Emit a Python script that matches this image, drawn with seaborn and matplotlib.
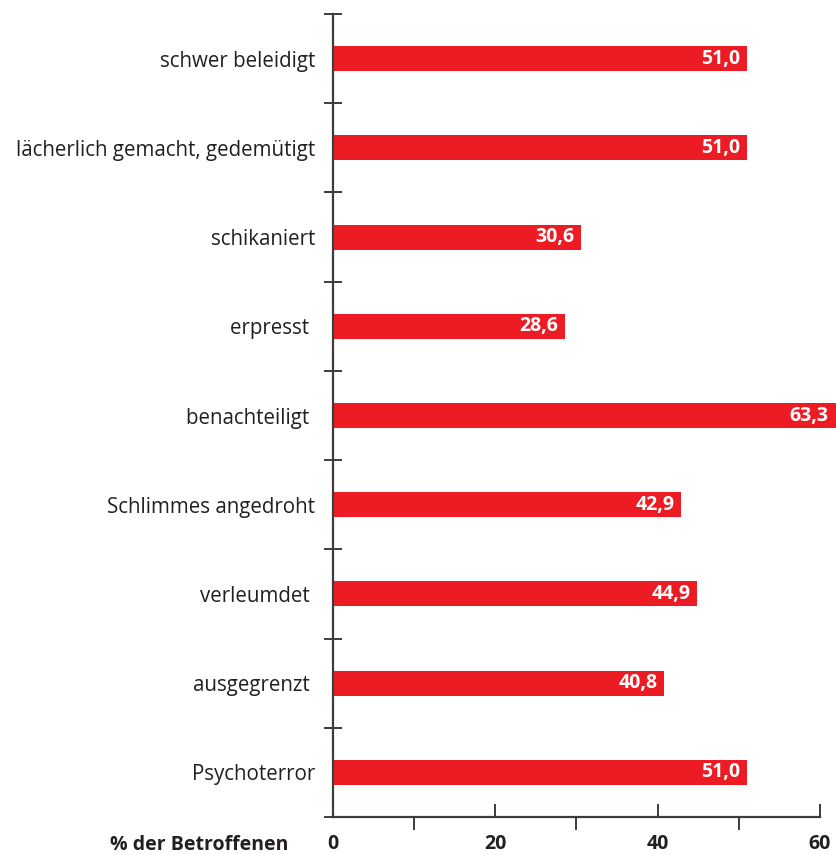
# Mobbing: Formen der Betroffenheit, horizontal bars

import numpy as np
import pandas as pd
import matplotlib
matplotlib.use('Agg')
import matplotlib.pyplot as plt
import matplotlib.transforms as mtransforms
from matplotlib.ticker import FixedLocator
import seaborn as sb

# Data
categories = ["schwer beleidigt", "lächerlich gemacht, gedemütigt", "schikaniert",
              "erpresst ", "benachteiligt ", "Schlimmes angedroht", "verleumdet ",
              "ausgegrenzt ", "Psychoterror"]
values = [51.0, 51.0, 30.6, 28.6, 63.3, 42.9, 44.9, 40.8, 51.0]
value_labels = ["51,0", "51,0", "30,6", "28,6", "63,3", "42,9", "44,9", "40,8", "51,0"]
x_ticks = [0, 20, 40, 60]
x_minor = [10, 30, 50]
x_label = "% der Betroffenen"

red = "#ED1C24"
ink = "#231F20"
axis_col = "#3C3C3C"

df = pd.DataFrame({"cat": categories, "val": values})

sb.set_style("white")
plt.rcParams['font.family'] = ['Open Sans', 'DejaVu Sans']

fig = plt.figure(figsize=(8.37, 8.55), dpi=100)
ax = fig.add_axes([333 / 837, 1 - 817 / 855, (820 - 333) / 837, (817 - 14) / 855])

sb.barplot(data=df, y="cat", x="val", orient="h", color=red, width=0.28,
           saturation=1, ax=ax)
for p in ax.patches:
    p.set_clip_on(False)
    p.set_edgecolor("none")

ax.set_xlim(0, 60)
ax.set_ylim(len(categories) - 0.5, -0.5)

# spines
sb.despine(ax=ax, top=True, right=True)
for s in ["left", "bottom"]:
    ax.spines[s].set_color(axis_col)
    ax.spines[s].set_linewidth(1.6)

# y axis: labels at bar centres, ticks at category borders
ax.set_yticks(range(len(categories)))
ax.set_yticklabels(categories, fontsize=14.8, color=ink)
ax.tick_params(axis="y", which="major", left=True, length=0, pad=13)
ax.yaxis.set_minor_locator(FixedLocator(np.arange(-0.5, len(categories), 1.0)))
ax.tick_params(axis="y", which="minor", left=True, direction="inout", length=13.5,
               width=1.4, color=axis_col)

# x axis
ax.set_xticks(x_ticks)
ax.set_xticklabels([str(t) for t in x_ticks], fontsize=14, fontweight="bold", color=ink)
ax.xaxis.set_minor_locator(FixedLocator(x_minor))
ax.tick_params(axis="x", which="major", bottom=True, direction="in", length=9.5,
               width=1.4, color=axis_col, pad=12)
ax.tick_params(axis="x", which="minor", bottom=True, direction="out", length=9.5,
               width=1.4, color=axis_col)
ax.set_xlabel("")
ax.set_ylabel("")
ax.text(-0.092, -0.035, x_label, transform=ax.transAxes, ha="right", va="center",
        fontsize=14, fontweight="bold", color=ink)

# value labels inside bar ends (kept inside the figure)
x_edge = ax.transData.inverted().transform(fig.transFigure.transform((1, 0)))[0]
offset = mtransforms.offset_copy(ax.transData, fig=fig, x=-5, y=0, units="points")
for i, (v, lab) in enumerate(zip(values, value_labels)):
    ax.text(min(v, x_edge - 0.2), i, lab, transform=offset, ha="right", va="center",
            fontsize=14, fontweight="bold", color="white", clip_on=False)

plt.savefig("out.png", dpi=100)
